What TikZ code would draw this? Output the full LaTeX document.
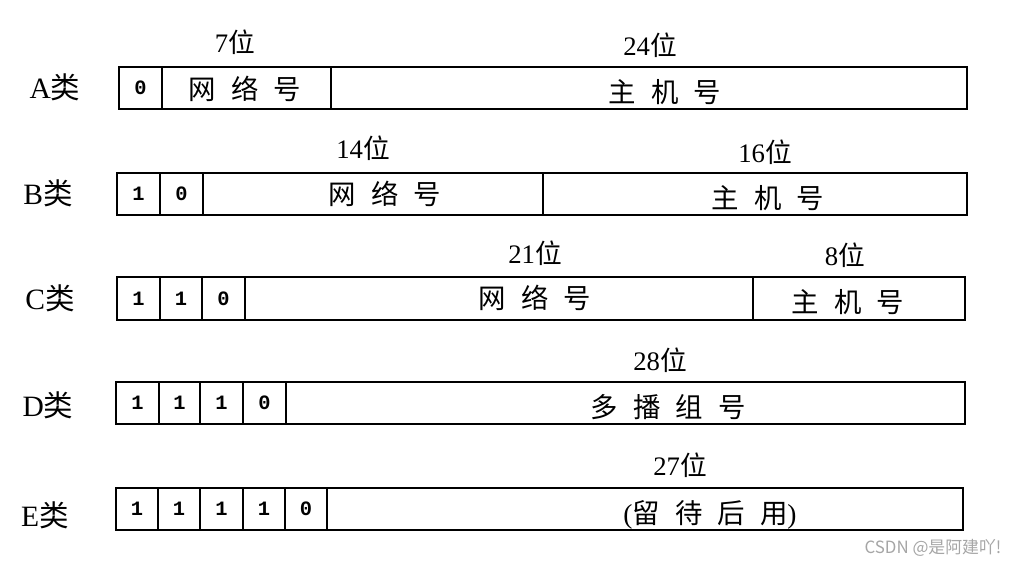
\documentclass[tikz,border=0pt]{standalone}
\usepackage{fontspec}
\setmainfont{Liberation Serif}
\newfontfamily\cjk{Noto Sans CJK SC}
\newfontfamily\mybit{Liberation Mono}
\usetikzlibrary{fit}
\newcommand\gp{\hspace{0.55em}}
\tikzset{
  fld/.style={draw, line width=1.2pt, inner sep=0pt},
  cls/.style={font=\fontsize{21}{21}\selectfont, inner sep=0pt},
  bits/.style={font=\mybit\bfseries\fontsize{14.5}{14.5}\selectfont, inner sep=0pt},
  wid/.style={font=\fontsize{19}{19}\selectfont, inner sep=0pt},
  ftxt/.style={font=\cjk\fontsize{19.5}{19.5}\selectfont, inner sep=0pt},
}
\begin{document}
\begin{tikzpicture}[x=0.025cm,y=-0.025cm]
\useasboundingbox[fill=white] (0,0) rectangle (1015,567);

% ---- A ----
\node[cls] (la) at (55,87) {A{\cjk 类}};
\node[fld, fit={(119,67)(162,109)}] (a1) {};
\node[fld, fit={(162,67)(331,109)}] (a2) {};
\node[fld, fit={(331,67)(967,109)}] (a3) {};
\node[bits] (a1t) at (a1) {0};
\node[ftxt] (a2t) at (245,89) {网\gp 络\gp 号};
\node[ftxt] (a3t) at (665,92) {主\gp 机\gp 号};
\node[wid] (aw1) at (235,42) {7{\cjk 位}};
\node[wid] (aw2) at (650,45) {24{\cjk 位}};

% ---- B ----
\node[cls] (lb) at (48,193) {B{\cjk 类}};
\node[fld, fit={(117,173)(160,215)}] (b1) {};
\node[fld, fit={(160,173)(203,215)}] (b2) {};
\node[fld, fit={(203,173)(543,215)}] (b3) {};
\node[fld, fit={(543,173)(967,215)}] (b4) {};
\node[bits] (b1t) at (b1) {1};
\node[bits] (b2t) at (b2) {0};
\node[ftxt] (b3t) at (385,194) {网\gp 络\gp 号};
\node[ftxt] (b4t) at (768,198) {主\gp 机\gp 号};
\node[wid] (bw1) at (363,148) {14{\cjk 位}};
\node[wid] (bw2) at (765,152) {16{\cjk 位}};

% ---- C ----
\node[cls] (lc) at (50,298) {C{\cjk 类}};
\node[fld, fit={(117,277)(160,320)}] (c1) {};
\node[fld, fit={(160,277)(202,320)}] (c2) {};
\node[fld, fit={(202,277)(245,320)}] (c3) {};
\node[fld, fit={(245,277)(753,320)}] (c4) {};
\node[fld, fit={(753,277)(965,320)}] (c5) {};
\node[bits] (c1t) at (c1) {1};
\node[bits] (c2t) at (c2) {1};
\node[bits] (c3t) at (c3) {0};
\node[ftxt] (c4t) at (535,298) {网\gp 络\gp 号};
\node[ftxt] (c5t) at (848,302) {主\gp 机\gp 号};
\node[wid] (cw1) at (535,253) {21{\cjk 位}};
\node[wid] (cw2) at (845,255) {8{\cjk 位}};

% ---- D ----
\node[cls] (ld) at (48,405) {D{\cjk 类}};
\node[fld, fit={(116,382)(159,424)}] (d1) {};
\node[fld, fit={(159,382)(200,424)}] (d2) {};
\node[fld, fit={(200,382)(243,424)}] (d3) {};
\node[fld, fit={(243,382)(286,424)}] (d4) {};
\node[fld, fit={(286,382)(965,424)}] (d5) {};
\node[bits] (d1t) at (d1) {1};
\node[bits] (d2t) at (d2) {1};
\node[bits] (d3t) at (d3) {1};
\node[bits] (d4t) at (d4) {0};
\node[ftxt] (d5t) at (668,407) {多\gp 播\gp 组\gp 号};
\node[wid] (dw1) at (660,360) {28{\cjk 位}};

% ---- E ----
\node[cls] (le) at (45,515) {E{\cjk 类}};
\node[fld, fit={(116,488)(158,530)}] (e1) {};
\node[fld, fit={(158,488)(200,530)}] (e2) {};
\node[fld, fit={(200,488)(243,530)}] (e3) {};
\node[fld, fit={(243,488)(285,530)}] (e4) {};
\node[fld, fit={(285,488)(327,530)}] (e5) {};
\node[fld, fit={(327,488)(963,530)}] (e6) {};
\node[bits] (e1t) at (e1) {1};
\node[bits] (e2t) at (e2) {1};
\node[bits] (e3t) at (e3) {1};
\node[bits] (e4t) at (e4) {1};
\node[bits] (e5t) at (e5) {0};
\node[ftxt] (e6t) at (710,515) {\rmfamily(\cjk 留\gp 待\gp 后\gp 用\rmfamily)};
\node[wid] (ew1) at (680,465) {27{\cjk 位}};

% watermark
\node[font=\cjk\fontsize{12}{12}\selectfont, text=black!35, inner sep=0pt] (wm) at (933,548) {CSDN @是阿建吖!};
\end{tikzpicture}
\end{document}
